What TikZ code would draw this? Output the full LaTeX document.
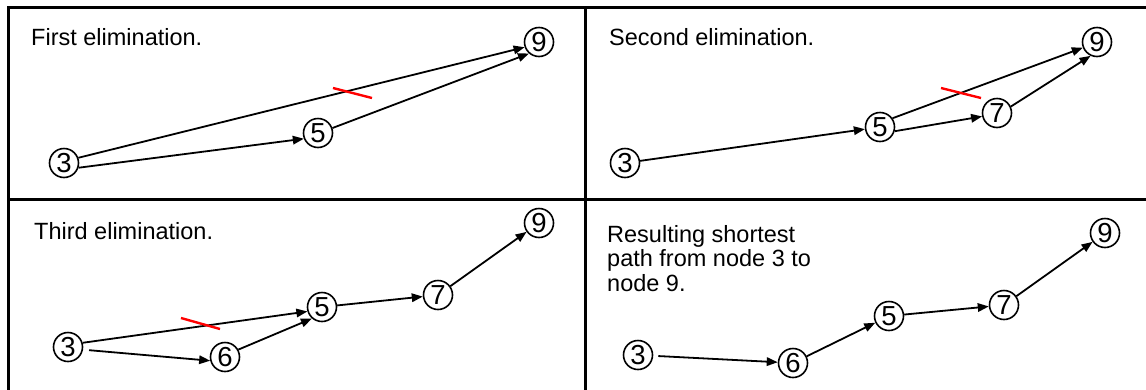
\documentclass[tikz,border=0pt]{standalone}
\usepackage{fontspec}
\setmainfont{Liberation Sans}
\usetikzlibrary{arrows.meta}

\begin{document}
\begin{tikzpicture}[x=1pt, y=-1pt, >={Triangle[length=11pt,width=8.5pt]},
  nd/.style={draw, circle, line width=1.6pt, minimum size=29pt, inner sep=0pt, font=\fontsize{27.5}{27.5}\selectfont},
  lbl/.style={anchor=base west, inner sep=0pt, font=\fontsize{23.5}{24.5}\selectfont},
  ed/.style={->, line width=1.8pt},
  elim/.style={draw=red, line width=2.4pt},
  frm/.style={line width=3pt}]
  \useasboundingbox (0,0) rectangle (1146,389);
  \clip (0,0) rectangle (1146,389);
  \draw[frm] (8,7) rectangle (1170,410);
  \draw[frm] (585.5,7) -- (585.5,410);
  \draw[frm] (8,199.5) -- (1170,199.5);
  % first elimination
  \node[lbl] (t1) at (31,45) {First elimination.};
  \node[nd] (a3) at (64,163) {3};
  \node[nd] (a5) at (318,133) {5};
  \node[nd] (a9) at (539,42) {9};
  \draw[ed] (a3.20) -- (a9.200);
  \draw[ed] (a3.-18) -- (a5.202);
  \draw[ed] (a5.19) -- (a9.229);
  \draw[elim] (333,88) -- (372,98);
  % second elimination
  \node[lbl] (t2) at (609,45) {Second elimination.};
  \node[nd] (b3) at (625,163) {3};
  \node[nd] (b5) at (880,127) {5};
  \node[nd] (b7) at (997,113) {7};
  \node[nd] (b9) at (1097,42) {9};
  \draw[ed] (b3) -- (b5);
  \draw[ed] (b5.35) -- (b9.202);
  \draw[ed] (b5.-16) -- (b7.193);
  \draw[ed] (b7.25) -- (b9.245);
  \draw[elim] (941,88) -- (981,98);
  % third elimination
  \node[lbl] (t3) at (34,239) {Third elimination.};
  \node[nd] (c3) at (68,347) {3};
  \node[nd] (c6) at (225,357) {6};
  \node[nd] (c5) at (322,307) {5};
  \node[nd] (c7) at (438,295) {7};
  \node[nd] (c9) at (539,223) {9};
  \draw[ed] (c3.16) -- (c5.197);
  \draw[ed, shorten <=6pt] (c3.-10) -- (c6.194);
  \draw[ed] (c6.29) -- (c5.229);
  \draw[ed] (c5) -- (c7);
  \draw[ed] (c7) -- (c9);
  \draw[elim] (181,318) -- (220,329);
  % resulting path
  \node[lbl, anchor=north west, align=left] (t4) at (607,225) {Resulting shortest\\path from node 3 to\\node 9.};
  \node[nd] (d3) at (638,355) {3};
  \node[nd] (d6) at (793,363) {6};
  \node[nd] (d5) at (889,316) {5};
  \node[nd] (d7) at (1004,305) {7};
  \node[nd] (d9) at (1105,233) {9};
  \draw[ed, shorten <=5pt] (d3) -- (d6);
  \draw[ed] (d6) -- (d5);
  \draw[ed] (d5) -- (d7);
  \draw[ed] (d7) -- (d9);
\end{tikzpicture}
\end{document}
